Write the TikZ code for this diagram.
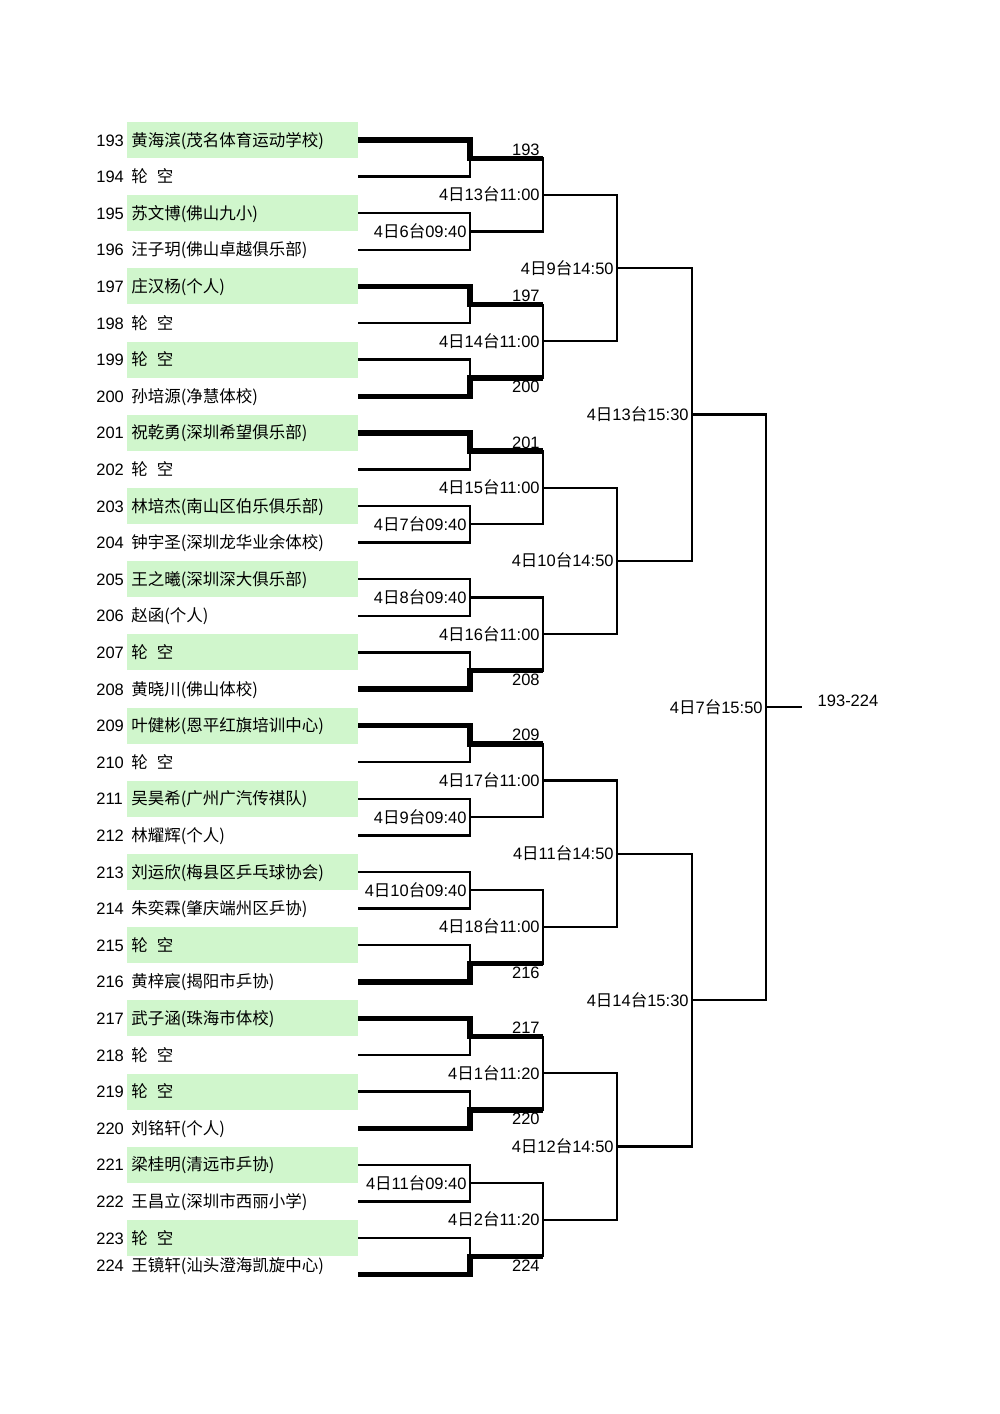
\documentclass[tikz,border=0pt]{standalone}
\usepackage{fontspec}
\setmainfont{Liberation Sans}
\newfontfamily\cjkfont{Noto Sans CJK SC}
\definecolor{lgreen}{RGB}{208,246,204}
\newcommand\fs{\fontsize{8.25pt}{10pt}\selectfont}
\newcommand\bye{轮\hspace{4.5pt}空}
\newcommand\mt[2]{4{\cjkfont 日}#1{\cjkfont 台}#2}
\begin{document}
\begin{tikzpicture}[x=0.5pt,y=-0.5pt,
  conn/.style={line width=1.15pt,black},
  win/.style={line width=2.7pt,black},
  numtxt/.style={anchor=base west,inner sep=0pt,font=\fs},
  nametxt/.style={anchor=base west,inner sep=0pt,font=\fs\cjkfont},
  tm/.style={anchor=base east,inner sep=0pt,font=\fs},
  wlab/.style={anchor=base east,inner sep=0pt,font=\fs}]
\fill[white] (0,0) rectangle (1000,1414);
\useasboundingbox (0,0) rectangle (1000,1414);
% green bands
\foreach \i in {0,2,...,30}
  \fill[lgreen] (127,{140+36.6*\i-18}) rectangle (358,{140+36.6*\i+18});
% entries
\foreach \n/\nm/\dy [count=\i from 0] in {
 193/{黄海滨(茂名体育运动学校)}/0, 194/\bye/0, 195/{苏文博(佛山九小)}/0, 196/{汪子玥(佛山卓越俱乐部)}/0,
 197/{庄汉杨(个人)}/0, 198/\bye/0, 199/\bye/0, 200/{孙培源(净慧体校)}/0,
 201/{祝乾勇(深圳希望俱乐部)}/0, 202/\bye/0, 203/{林培杰(南山区伯乐俱乐部)}/0, 204/{钟宇圣(深圳龙华业余体校)}/0,
 205/{王之曦(深圳深大俱乐部)}/0, 206/{赵函(个人)}/0, 207/\bye/0, 208/{黄晓川(佛山体校)}/0,
 209/{叶健彬(恩平红旗培训中心)}/0, 210/\bye/0, 211/{吴昊希(广州广汽传祺队)}/0, 212/{林耀辉(个人)}/0,
 213/{刘运欣(梅县区乒乓球协会)}/0, 214/{朱奕霖(肇庆端州区乒协)}/0, 215/\bye/0, 216/{黄梓宸(揭阳市乒协)}/0,
 217/{武子涵(珠海市体校)}/0, 218/\bye/0, 219/\bye/0, 220/{刘铭轩(个人)}/0,
 221/{梁桂明(清远市乒协)}/0, 222/{王昌立(深圳市西丽小学)}/0, 223/\bye/0, 224/{王镜轩(汕头澄海凯旋中心)}/-9} {
  \pgfmathsetmacro\yy{140+36.6*\i}
  \coordinate (L\i) at (358,\yy);
  \coordinate (V\i) at (470,\yy);
  \node[numtxt] (num\i) at (96,{\yy+6+\dy}) {\n};
  \node[nametxt] (nm\i) at (131,{\yy+6+\dy}) {\nm};
}
% round 1
\foreach \k in {0,...,15} {
  \pgfmathtruncatemacro\a{2*\k}
  \pgfmathtruncatemacro\b{2*\k+1}
  \pgfmathsetmacro\mm{140+36.6*(2*\k+0.5)}
  \coordinate (M1-\k) at (470,\mm);
  \coordinate (E1-\k) at (543,\mm);
  \draw[conn] (L\a) -- (V\a) -- (V\b) -- (L\b);
}
% round 2
\foreach \j in {0,...,7} {
  \pgfmathtruncatemacro\a{2*\j}
  \pgfmathtruncatemacro\b{2*\j+1}
  \pgfmathsetmacro\mm{140+36.6*(4*\j+1.5)}
  \coordinate (M2-\j) at (543,\mm);
  \coordinate (E2-\j) at (617,\mm);
  \draw[conn] (M1-\a) -- (E1-\a) -- (E1-\b) -- (M1-\b);
}
% round 3
\foreach \l in {0,...,3} {
  \pgfmathtruncatemacro\a{2*\l}
  \pgfmathtruncatemacro\b{2*\l+1}
  \pgfmathsetmacro\mm{140+36.6*(8*\l+3.5)}
  \coordinate (M3-\l) at (617,\mm);
  \coordinate (E3-\l) at (692,\mm);
  \draw[conn] (M2-\a) -- (E2-\a) -- (E2-\b) -- (M2-\b);
}
% round 4
\foreach \t in {0,1} {
  \pgfmathtruncatemacro\a{2*\t}
  \pgfmathtruncatemacro\b{2*\t+1}
  \pgfmathsetmacro\mm{140+36.6*(16*\t+7.5)}
  \coordinate (M4-\t) at (692,\mm);
  \coordinate (E4-\t) at (766,\mm);
  \draw[conn] (M3-\a) -- (E3-\a) -- (E3-\b) -- (M3-\b);
}
% round 5
\pgfmathsetmacro\rr{140+36.6*15.5}
\coordinate (M5) at (766,\rr);
\coordinate (F) at (802,\rr);
\draw[conn] (M4-0) -- (E4-0) -- (E4-1) -- (M4-1);
\draw[conn] (M5) -- (F);
\node[anchor=base,inner sep=0pt,font=\fs] (final) at (848,706) {193-224};
% byes: top winners
\foreach \k/\w in {0/193,2/197,4/201,8/209,12/217} {
  \pgfmathtruncatemacro\a{2*\k}
  \pgfmathsetmacro\mm{140+36.6*(2*\k+0.5)}
  \draw[win] (L\a) -- (V\a) -- (M1-\k) -- (E1-\k);
  \node[wlab] (w\k) at (540,{\mm-3}) {\w};
}
% byes: bottom winners
\foreach \k/\w in {3/200,7/208,11/216,13/220,15/224} {
  \pgfmathtruncatemacro\b{2*\k+1}
  \pgfmathsetmacro\mm{140+36.6*(2*\k+0.5)}
  \draw[win] (L\b) -- (V\b) -- (M1-\k) -- (E1-\k);
  \node[wlab] (w\k) at (540,{\mm+15}) {\w};
}
% match labels round 1
\foreach \k/\tb in {1/6,5/7,6/8,9/9,10/10,14/11} {
  \pgfmathsetmacro\mm{140+36.6*(2*\k+0.5)}
  \node[tm] (ta\k) at (467,{\mm+6}) {\mt{\tb}{09:40}};
}
% round 2 labels
\foreach \j/\tb/\hh in {0/13/11:00,1/14/11:00,2/15/11:00,3/16/11:00,4/17/11:00,5/18/11:00,6/1/11:20,7/2/11:20} {
  \pgfmathsetmacro\mm{140+36.6*(4*\j+1.5)}
  \node[tm] (tb\j) at (540,{\mm+6}) {\mt{\tb}{\hh}};
}
% round 3 labels
\foreach \l/\tb in {0/9,1/10,2/11,3/12} {
  \pgfmathsetmacro\mm{140+36.6*(8*\l+3.5)}
  \node[tm] (tc\l) at (614,{\mm+6}) {\mt{\tb}{14:50}};
}
% round 4 labels
\foreach \t/\tb in {0/13,1/14} {
  \pgfmathsetmacro\mm{140+36.6*(16*\t+7.5)}
  \node[tm] (td\t) at (689,{\mm+6}) {\mt{\tb}{15:30}};
}
\node[tm] (te) at (763,{\rr+6}) {\mt{7}{15:50}};
\end{tikzpicture}
\end{document}
